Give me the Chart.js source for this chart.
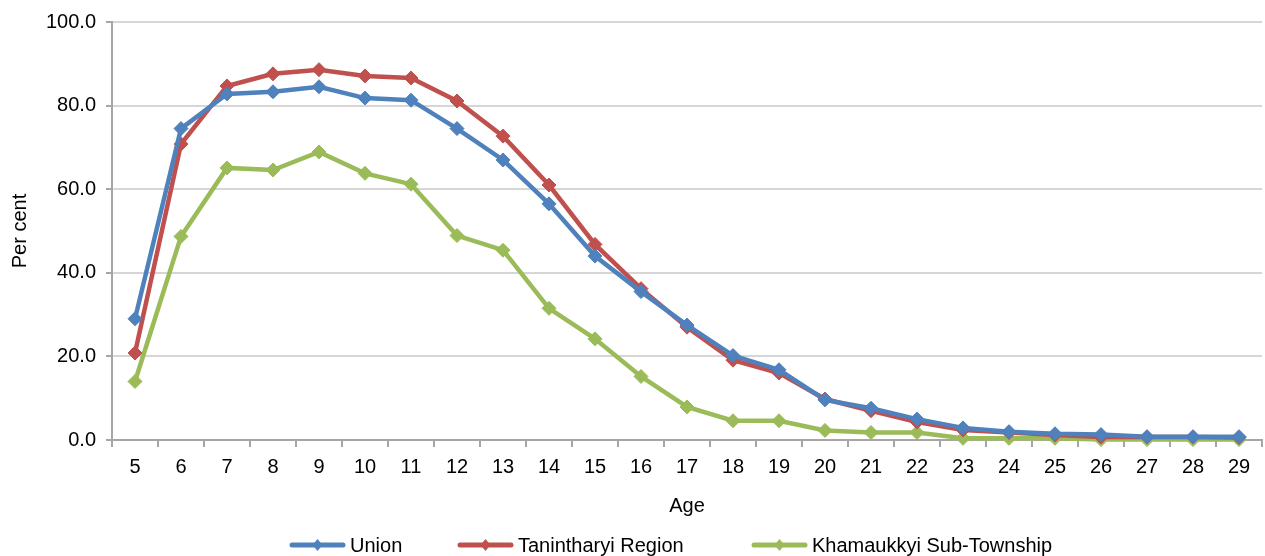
<!DOCTYPE html>
<html>
<head>
<meta charset="utf-8">
<script src="https://cdn.jsdelivr.net/npm/chart.js@4"></script>
<style>
html,body{margin:0;padding:0;background:#fff;}
#wrap{width:1265px;height:556px;}
</style>
</head>
<body>
<div id="wrap"><canvas id="c" width="1265" height="556"></canvas></div>
<script>
const ages = ['5','6','7','8','9','10','11','12','13','14','15','16','17','18','19','20','21','22','23','24','25','26','27','28','29'];
const union = [29.0,74.5,82.8,83.3,84.5,81.8,81.3,74.5,67.0,56.5,44.0,35.5,27.5,20.2,16.8,9.6,7.6,5.0,2.9,2.0,1.5,1.3,0.8,0.8,0.8];
const tanintharyi = [20.8,70.8,84.7,87.6,88.6,87.1,86.6,81.1,72.7,61.0,46.8,36.2,27.0,19.1,16.0,9.8,7.0,4.3,2.4,1.8,1.2,0.7,0.7,0.7,0.6];
const khamaukkyi = [14.0,48.7,65.1,64.6,68.9,63.8,61.2,48.9,45.4,31.5,24.2,15.2,7.9,4.6,4.6,2.3,1.8,1.8,0.4,0.4,0.4,0.1,0.1,0.1,0.1];
const yTicks = [0,20,40,60,80,100];

const colors = ['#4F81BD','#C0504D','#9BBB59'];
const names = ['Union','Tanintharyi Region','Khamaukkyi Sub-Township'];
const seriesList = [union, tanintharyi, khamaukkyi];

const FONT = "'Liberation Sans', Arial, sans-serif";
const FS = 20;
const legendStarts = [290, 458, 752];

const bottomLegend = {
  id: 'bottomLegend',
  afterDraw(chart) {
    const ctx = chart.ctx;
    const ds = chart.data.datasets;
    ctx.save();
    ctx.font = FS + 'px ' + FONT;
    ctx.textBaseline = 'middle';
    ctx.textAlign = 'left';
    const iconW = 55, gapT = 5;
    const y = 545;
    ds.forEach((d,i)=>{
      const x = legendStarts[i];
      const c = d.borderColor;
      ctx.strokeStyle = c; ctx.lineWidth = 5; ctx.lineCap = 'round';
      ctx.beginPath(); ctx.moveTo(x+2,y); ctx.lineTo(x+iconW-2,y); ctx.stroke();
      ctx.fillStyle = c;
      const cx = x + iconW/2;
      ctx.beginPath(); ctx.moveTo(cx,y-6); ctx.lineTo(cx+5,y); ctx.lineTo(cx,y+6); ctx.lineTo(cx-5,y); ctx.closePath(); ctx.fill();
      ctx.fillStyle = '#000';
      ctx.fillText(d.label, x + iconW + gapT, y+1);
    });
    ctx.restore();
  }
};

new Chart(document.getElementById('c'), {
  type: 'line',
  data: {
    labels: ages,
    datasets: seriesList.map((d,i)=>({
      label: names[i],
      data: d,
      borderColor: colors[i],
      backgroundColor: colors[i],
      borderWidth: 4.5,
      pointStyle: 'rectRot',
      pointRadius: 7,
      pointBorderWidth: 1,
      pointBackgroundColor: colors[i],
      pointBorderColor: colors[i],
      tension: 0,
      fill: false,
      clip: false
    }))
  },
  plugins: [bottomLegend],
  options: {
    responsive: false,
    animation: false,
    devicePixelRatio: 1,
    layout: {autoPadding: false, padding: {top: 12, right: 3, left: 0, bottom: 0}},
    plugins: {
      title: {display: false},
      tooltip: {enabled: false},
      legend: {display: false}
    },
    scales: {
      x: {
        type: 'category',
        offset: true,
        afterFit: (s) => { s.height = 116; s.paddingRight = 0; s.paddingLeft = 0; },
        grid: {offset: true, drawOnChartArea: false, tickLength: 7, color: '#a6a6a6', lineWidth: 2},
        border: {color: '#a6a6a6', width: 2},
        ticks: {color: '#000', font: {family: FONT, size: FS}, padding: 8, maxRotation: 0, autoSkip: false},
        title: {display: true, text: 'Age', color: '#000', font: {family: FONT, size: FS}, padding: {top: 0, bottom: 38}}
      },
      y: {
        min: 0, max: 100,
        afterBuildTicks: (s) => { s.ticks = yTicks.map(v=>({value:v})); },
        afterFit: (s) => { s.width = 112; },
        grid: {color: '#d6d6d6', lineWidth: 2, tickLength: 6, tickColor: '#a6a6a6', tickWidth: 2},
        border: {color: '#a6a6a6', width: 2},
        ticks: {color: '#000', font: {family: FONT, size: FS}, padding: 10, callback: (v)=>Number(v).toFixed(1)},
        title: {display: true, text: 'Per cent', color: '#000', font: {family: FONT, size: FS}, padding: {top: 8, bottom: 0}}
      }
    }
  }
});
</script>
</body>
</html>
